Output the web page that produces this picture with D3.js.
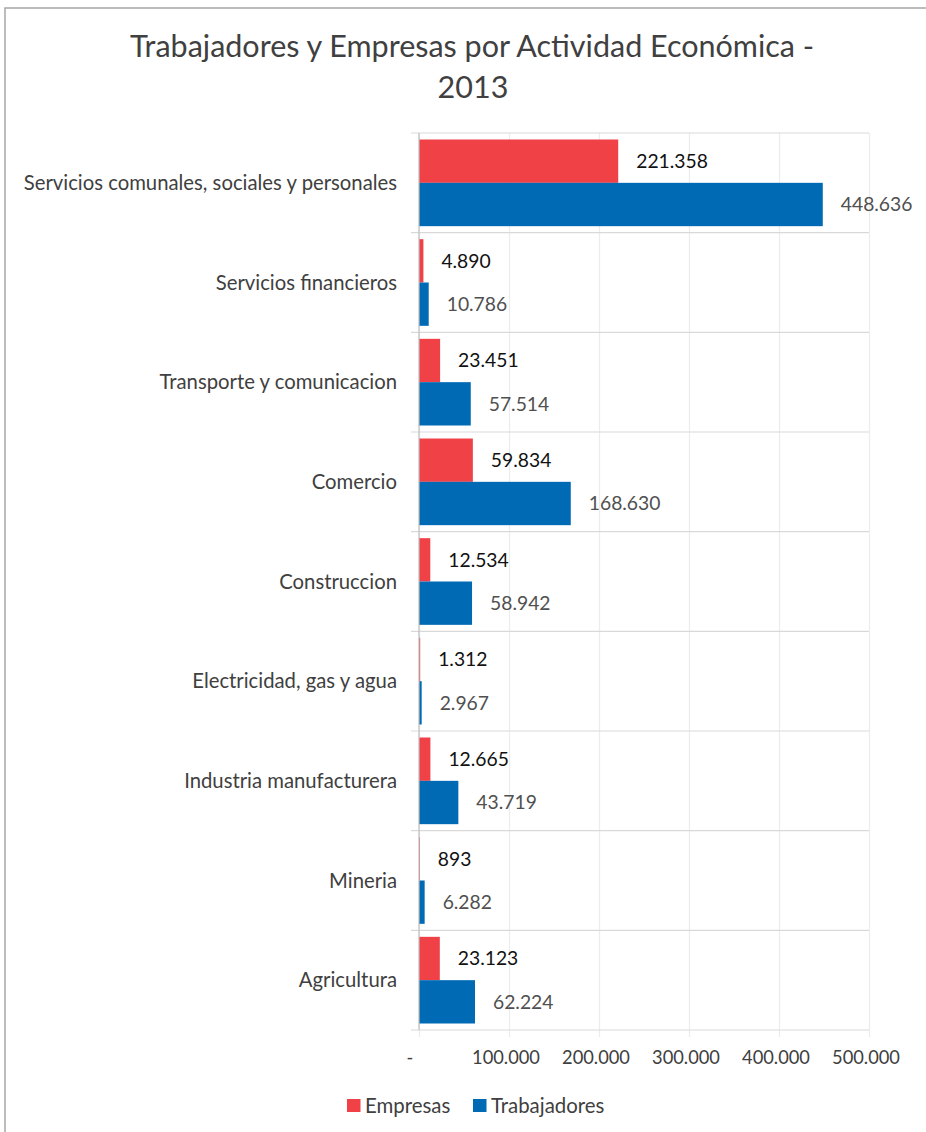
<!DOCTYPE html>
<html>
<head>
<meta charset="utf-8">
<script src="https://cdn.jsdelivr.net/npm/d3@7"></script>
<style>
	body { margin: 0; background: #fff; }
	svg { display: block; font-family: "Lato", "Open Sans", sans-serif; }
</style>
</head>
<body>
<div id="chart"></div>
<script>
var categories = ["Servicios comunales, sociales y personales",
				  "Servicios financieros",
				  "Transporte y comunicacion",
				  "Comercio",
				  "Construccion",
				  "Electricidad, gas y agua",
				  "Industria manufacturera",
				  "Mineria",
				  "Agricultura"]

var empresas     = [221358, 4890, 23451, 59834, 12534, 1312, 12665, 893, 23123]
var trabajadores = [448636, 10786, 57514, 168630, 58942, 2967, 43719, 6282, 62224]

var seriesNames = ["Empresas", "Trabajadores"]
var xTicks = [0, 100000, 200000, 300000, 400000, 500000]

var w = 926,
	h = 1132,
	plotLeft = 419, plotRight = 869,
	plotTop = 133, plotBottom = 1030;

var cRed  = "#EF4146",
	cBlue = "#006AB5",
	cText = "#404040";

var locale = d3.formatLocale({decimal: ",", thousands: ".", grouping: [3], currency: ["", ""]})
var fmt = locale.format(",d")

var rows = categories.map(function(c, i) {
	return {cat: c, values: [empresas[i], trabajadores[i]]}
})

var svg = d3.select("#chart")
			.append("svg")
			.attr("width", w)
			.attr("height", h)

// outer frame (runs off the right and bottom edges)
svg.append("rect")
	.attr("x", 5).attr("y", 8)
	.attr("width", w + 20).attr("height", h + 20)
	.attr("fill", "none")
	.attr("stroke", "#a6a6a6")
	.attr("stroke-width", 1.5)

var x = d3.scaleLinear().domain([0, 500000]).range([plotLeft, plotRight])
var y = d3.scaleBand().domain(categories).range([plotTop, plotBottom])
var ySub = d3.scaleBand().domain(seriesNames).range([0, y.bandwidth()]).paddingOuter(0.15)
var color = d3.scaleOrdinal().domain(seriesNames).range([cRed, cBlue])

// vertical gridlines + small ticks under the plot
svg.append("g")
	.attr("transform", "translate(0," + plotBottom + ")")
	.call(d3.axisBottom(x).tickValues(xTicks).tickSize(-(plotBottom - plotTop)).tickFormat(""))
	.call(function(g) {
		g.select(".domain").remove()
		g.selectAll("line").attr("stroke", "#ececec").attr("stroke-width", 1.2).attr("y1", 7)
	})

// tick labels
svg.selectAll(".xLabel")
	.data(xTicks)
	.enter()
	.append("text")
	.attr("class", "xLabel")
	.attr("x", function(d) { return d == 0 ? x(d) - 9 : x(d) - 3 })
	.attr("y", 1064)
	.attr("text-anchor", "middle")
	.attr("font-size", 18.3)
	.attr("fill", cText)
	.text(function(d) { return d == 0 ? "-" : fmt(d) })

// category separators
var seps = d3.range(categories.length + 1).map(function(i) { return plotTop + i * y.step() })
svg.selectAll(".sep")
	.data(seps)
	.enter()
	.append("line")
	.attr("class", "sep")
	.attr("x1", plotLeft - 8).attr("x2", plotRight)
	.attr("y1", function(d) { return d }).attr("y2", function(d) { return d })
	.attr("stroke", "#d9d9d9")
	.attr("stroke-width", 1.2)

// bars
var groups = svg.selectAll(".cat")
	.data(rows)
	.enter()
	.append("g")
	.attr("class", "cat")
	.attr("transform", function(d) { return "translate(0," + y(d.cat) + ")" })

groups.selectAll("rect")
	.data(function(d) { return d.values.map(function(v, i) { return {s: seriesNames[i], v: v} }) })
	.enter()
	.append("rect")
	.attr("x", x(0))
	.attr("y", function(d) { return ySub(d.s) })
	.attr("width", function(d) { return x(d.v) - x(0) })
	.attr("height", ySub.bandwidth())
	.attr("fill", function(d) { return color(d.s) })

groups.selectAll(".val")
	.data(function(d) { return d.values.map(function(v, i) { return {s: seriesNames[i], v: v} }) })
	.enter()
	.append("text")
	.attr("class", "val")
	.attr("x", function(d) { return x(d.v) + 18 })
	.attr("y", function(d) { return ySub(d.s) + ySub.bandwidth() / 2 })
	.attr("dy", "0.36em")
	.attr("font-size", 19.3)
	.attr("fill", function(d) { return d.s == "Empresas" ? "#111" : "#505050" })
	.text(function(d) { return fmt(d.v) })

// category labels
groups.append("text")
	.attr("x", 397)
	.attr("y", y.bandwidth() / 2)
	.attr("dy", "0.36em")
	.attr("text-anchor", "end")
	.attr("font-size", 20.3)
	.attr("fill", cText)
	.text(function(d) { return d.cat })

// value axis line
svg.append("line")
	.attr("x1", plotLeft).attr("x2", plotLeft)
	.attr("y1", plotTop).attr("y2", plotBottom)
	.attr("stroke", "#bfbfbf")
	.attr("stroke-width", 1.2)

// title
svg.append("text")
	.attr("x", 472).attr("y", 57)
	.attr("text-anchor", "middle")
	.attr("font-size", 30.5)
	.attr("fill", cText)
	.text("Trabajadores y Empresas por Actividad Económica -")
svg.append("text")
	.attr("x", 473).attr("y", 98)
	.attr("text-anchor", "middle")
	.attr("font-size", 30.5)
	.attr("fill", cText)
	.text("2013")

// legend
var legend = svg.selectAll(".legend")
	.data(seriesNames)
	.enter()
	.append("g")
	.attr("class", "legend")
	.attr("transform", function(d, i) { return "translate(" + (i == 0 ? 347 : 473) + ",1099)" })

legend.append("rect")
	.attr("width", 13.5).attr("height", 13)
	.attr("fill", function(d) { return color(d) })

legend.append("text")
	.attr("x", 18).attr("y", 6.5)
	.attr("dy", "0.36em")
	.attr("font-size", 20.4)
	.attr("fill", cText)
	.text(function(d) { return d })
</script>
</body>
</html>
